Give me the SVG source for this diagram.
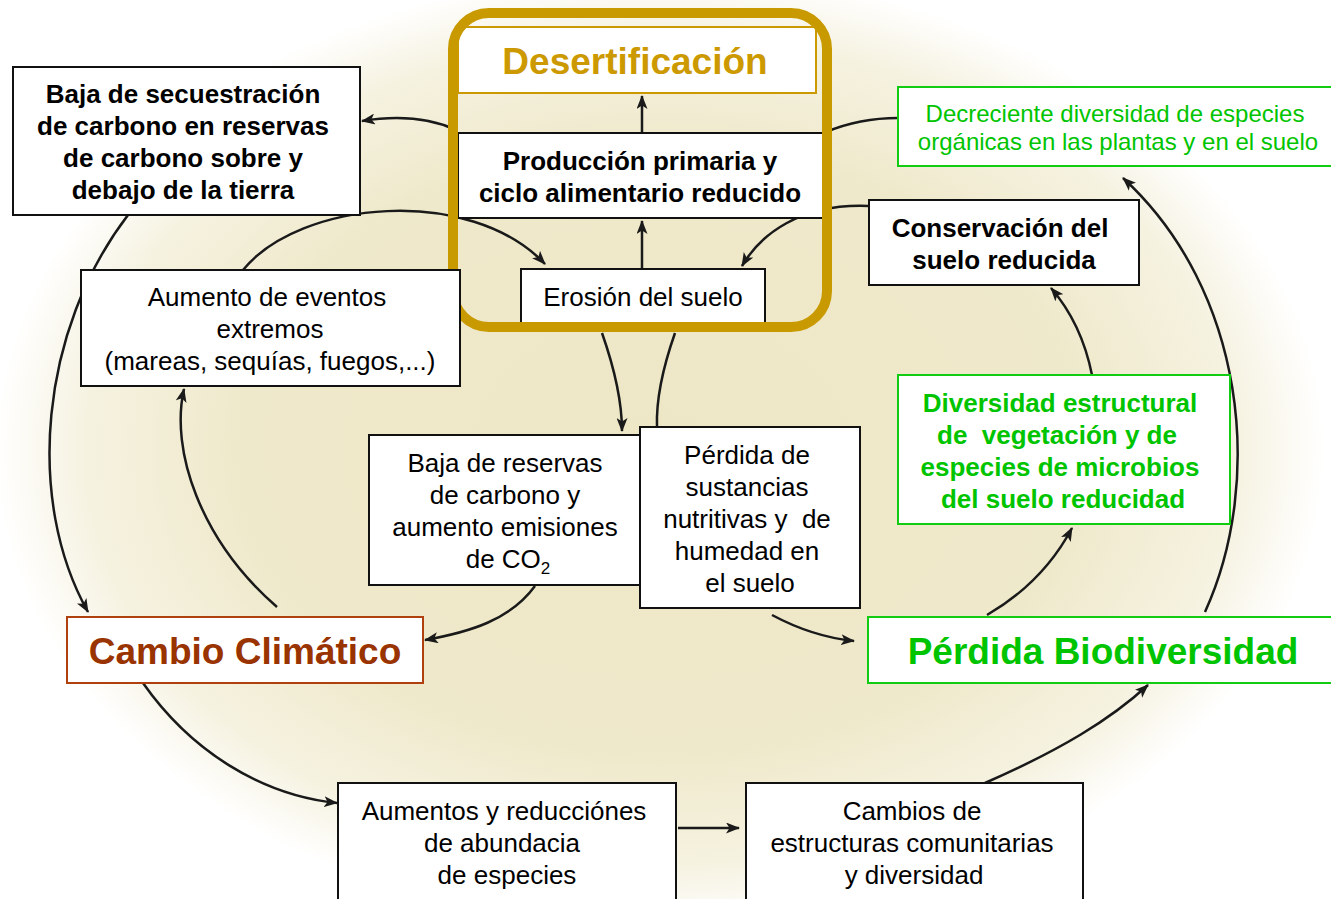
<svg xmlns="http://www.w3.org/2000/svg" width="1331" height="899" viewBox="0 0 1331 899">
<defs>
<radialGradient id="bg" cx="660" cy="450" r="700" gradientUnits="userSpaceOnUse" gradientTransform="translate(660 450) scale(1 0.72) translate(-660 -450)">
<stop offset="0" stop-color="#eee7c6"/>
<stop offset="0.6" stop-color="#efe9cb"/>
<stop offset="0.82" stop-color="#f5f2e0"/>
<stop offset="0.95" stop-color="#ffffff"/>
</radialGradient>
<marker id="ah" viewBox="0 0 14 11" refX="13" refY="5.5" markerWidth="14" markerHeight="11" markerUnits="userSpaceOnUse" orient="auto">
<path d="M0,0 L14,5.5 L0,11 L3.5,5.5 Z" fill="#1a1a1a"/>
</marker>
<style>
.box{fill:#fff;stroke:#111;stroke-width:2}
.gbox{fill:#fff;stroke:#11cc11;stroke-width:2}
.t{font-family:"Liberation Sans",Arial,sans-serif;font-size:26px;fill:#000;text-anchor:middle;white-space:pre}
.b{font-weight:bold}
.g{fill:#00c400}
.c{fill:none;stroke:#1a1a1a;stroke-width:2.5}
.a{marker-end:url(#ah)}
</style>
</defs>
<rect width="1331" height="899" fill="#fff"/>
<rect width="1331" height="899" fill="url(#bg)"/>

<g id="connectors">
<path class="c a" d="M642,133 L642,96"/>
<path class="c a" d="M642,269 L642,221"/>
<path class="c a" d="M456,130 C430,118 400,115 362,121"/>
<path class="c a" d="M243,270 C300,200 470,185 545,264"/>
<path class="c a" d="M869,206 C800,203 760,235 742,266"/>
<path class="c" d="M826,132 C850,122 875,118 898,118"/>
<path class="c a" d="M602,333 C615,370 622,400 622,431"/>
<path class="c" d="M675,333 C662,370 656,400 657,427"/>
<path class="c a" d="M535,586 C510,620 470,632 425,640"/>
<path class="c a" d="M772,615 C800,630 825,638 854,641"/>
<path class="c a" d="M128,215 C40,330 25,500 88,612"/>
<path class="c a" d="M277,607 C200,540 170,450 184,389"/>
<path class="c a" d="M143,683 C190,750 260,795 337,803"/>
<path class="c a" d="M678,828 L739,828"/>
<path class="c a" d="M985,783 C1060,750 1110,720 1148,685"/>
<path class="c a" d="M987,615 C1030,590 1055,560 1072,528"/>
<path class="c a" d="M1092,375 C1085,340 1070,310 1051,288"/>
<path class="c a" d="M1205,612 C1265,480 1245,290 1123,178"/>
</g>

<g id="desertificacion">
<rect x="458" y="27" width="358" height="66" fill="#fff" stroke="#cc9a00" stroke-width="2"/>
<text class="t b" x="635" y="74" style="font-size:37px;fill:#cc9900">Desertificación</text>
</g>

<g id="produccion">
<rect class="box" x="458" y="133" width="367" height="85"/>
<text class="t b" x="640" y="170">Producción primaria y</text>
<text class="t b" x="640" y="202">ciclo alimentario reducido</text>
</g>

<g id="erosion">
<rect class="box" x="521" y="269" width="244" height="54"/>
<text class="t" x="643" y="306">Erosión del suelo</text>
</g>

<g id="frame">
<rect x="453" y="13" width="374" height="314" rx="36" fill="none" stroke="#c99a00" stroke-width="10"/>
</g>

<g id="secuestracion">
<rect class="box" x="13" y="67" width="347" height="148"/>
<text class="t b" x="183" y="103">Baja de secuestración</text>
<text class="t b" x="183" y="135">de carbono en reservas</text>
<text class="t b" x="183" y="167">de carbono sobre y</text>
<text class="t b" x="183" y="199">debajo de la tierra</text>
</g>

<g id="eventos">
<rect class="box" x="81" y="270" width="379" height="116"/>
<text class="t" x="267" y="306">Aumento de eventos</text>
<text class="t" x="270" y="338">extremos</text>
<text class="t" x="270" y="370">(mareas, sequías, fuegos,...)</text>
</g>

<g id="conservacion">
<rect class="box" x="869" y="200" width="270" height="85"/>
<text class="t b" x="1000" y="237">Conservación del</text>
<text class="t b" x="1004" y="269">suelo reducida</text>
</g>

<g id="decreciente">
<rect class="gbox" x="898" y="87" width="440" height="79"/>
<text class="t g" x="1115" y="122" style="font-size:24px">Decreciente diversidad de especies</text>
<text class="t g" x="1118" y="150" style="font-size:24px">orgánicas en las plantas y en el suelo</text>
</g>

<g id="diversidad">
<rect class="gbox" x="898" y="375" width="332" height="149"/>
<text class="t b g" x="1060" y="412">Diversidad estructural</text>
<text class="t b g" x="1057" y="444" xml:space="preserve">de  vegetación y de</text>
<text class="t b g" x="1060" y="476">especies de microbios</text>
<text class="t b g" x="1063" y="508">del suelo reducidad</text>
</g>

<g id="reservas">
<rect class="box" x="369" y="435" width="278" height="150"/>
<text class="t" x="505" y="472">Baja de reservas</text>
<text class="t" x="505" y="504">de carbono y</text>
<text class="t" x="505" y="536">aumento emisiones</text>
<text class="t" x="508" y="568">de CO<tspan dy="6" style="font-size:17px">2</tspan></text>
</g>

<g id="nutrientes">
<rect class="box" x="640" y="427" width="220" height="181"/>
<text class="t" x="747" y="464">Pérdida de</text>
<text class="t" x="747" y="496">sustancias</text>
<text class="t" x="747" y="528" xml:space="preserve">nutritivas y  de</text>
<text class="t" x="747" y="560">humedad en</text>
<text class="t" x="750" y="592">el suelo</text>
</g>

<g id="cambio-climatico">
<rect x="67" y="617" width="356" height="66" fill="#fff" stroke="#b0400e" stroke-width="2"/>
<text class="t b" x="245" y="664" style="font-size:37px;fill:#993300">Cambio Climático</text>
</g>

<g id="perdida-biodiversidad">
<rect class="gbox" x="868" y="617" width="470" height="66"/>
<text class="t b g" x="1103" y="664" style="font-size:37px">Pérdida Biodiversidad</text>
</g>

<g id="abundancia">
<rect class="box" x="338" y="783" width="338" height="130"/>
<text class="t" x="504" y="820">Aumentos y reducciónes</text>
<text class="t" x="502" y="852">de abundacia</text>
<text class="t" x="507" y="884">de especies</text>
</g>

<g id="estructuras">
<rect class="box" x="746" y="783" width="337" height="130"/>
<text class="t" x="912" y="820">Cambios de</text>
<text class="t" x="912" y="852">estructuras comunitarias</text>
<text class="t" x="914" y="884">y diversidad</text>
</g>
</svg>
